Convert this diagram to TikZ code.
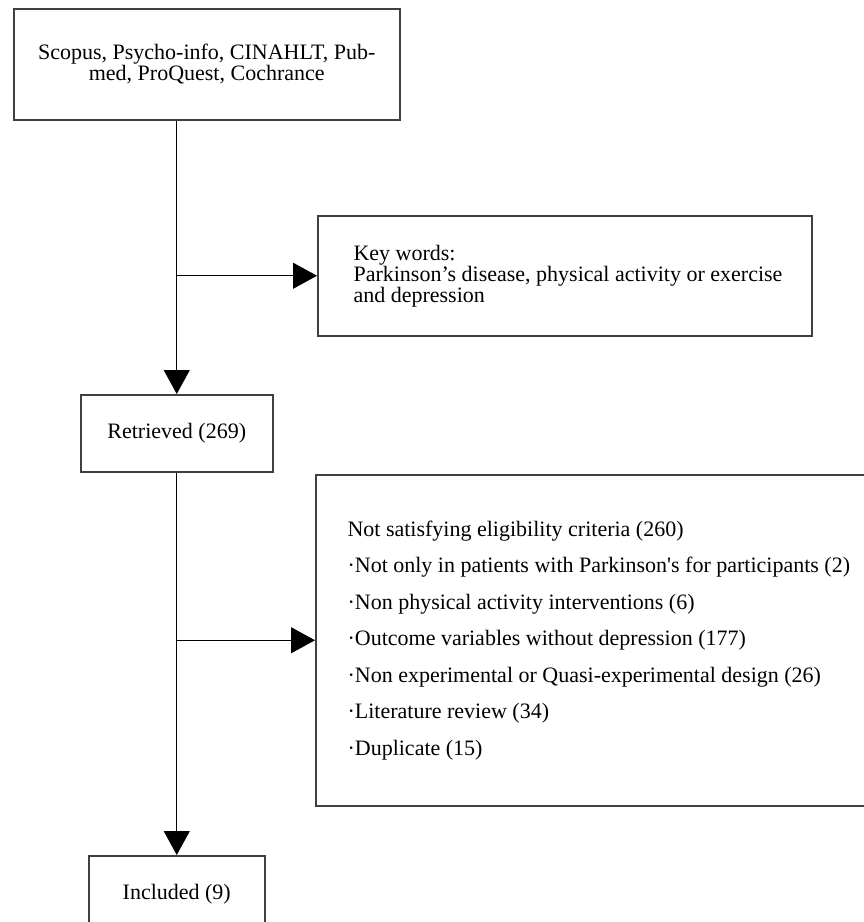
\documentclass[tikz,border=0pt]{standalone}
\usepackage{fontspec}
\setmainfont{Liberation Serif}[Ligatures=TeXOff]
\usetikzlibrary{arrows.meta}
\begin{document}
\begin{tikzpicture}[x=1pt, y=-1pt, >={Triangle[length=24pt,width=26pt]}, line width=1.1pt,
    font=\fontsize{22}{21}\selectfont,
    box/.style={draw=black!75, line width=1.5pt, inner sep=0pt, anchor=north west},
    label/.style={anchor=west, align=left, inner sep=0pt}]
    \useasboundingbox (0,0) rectangle (864,922);
    % boxes
    \node[box, minimum width=386, minimum height=111, align=center] (src) at (13,8)
        {Scopus, Psycho-info, CINAHLT, Pub-\\med, ProQuest, Cochrance};
    \node[box, minimum width=494, minimum height=120] (kw) at (317,215) {};
    \node[label] (kwtext) at ([xshift=36]kw.west)
        {Key words:\\Parkinson’s disease, physical activity or exercise\\and depression};
    \node[box, minimum width=192, minimum height=77] (ret) at (80,394) {Retrieved (269)};
    \node[box, minimum width=570, minimum height=331] (crit) at (315,474) {};
    \node[label, font=\fontsize{22}{36.5}\selectfont] (crittext) at ([xshift=32]crit.west)
        {Not satisfying eligibility criteria (260)\\
         ·Not only in patients with Parkinson's for participants (2)\\
         ·Non physical activity interventions (6)\\
         ·Outcome variables without depression (177)\\
         ·Non experimental or Quasi-experimental design (26)\\
         ·Literature review (34)\\
         ·Duplicate (15)};
    \node[box, minimum width=176, minimum height=76] (inc) at (88,855) {Included (9)};
    % connectors
    \draw[->] (src.south -| ret.north) -- (ret.north);
    \draw[->] (kw.west -| ret.north) -- (kw.west);
    \draw[->] (ret.south) -- (inc.north);
    \draw[->] (crit.west -| ret.south) -- (crit.west);
\end{tikzpicture}
\end{document}
